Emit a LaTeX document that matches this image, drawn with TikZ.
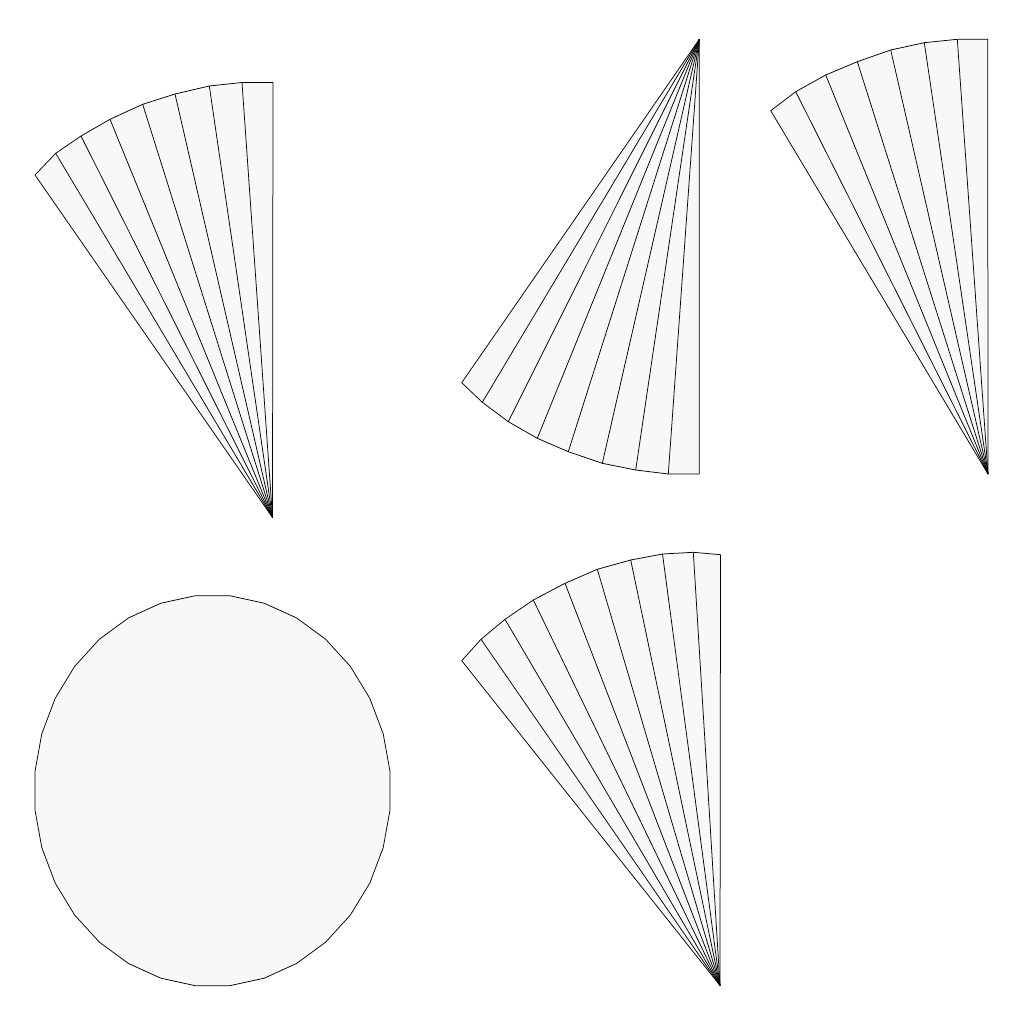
\documentclass[tikz,border=0pt]{standalone}
\usepackage{xcolor}
\usepackage{tikz}
\definecolor{fanfill}{RGB}{248, 248, 248}

\begin{document}
\begin{tikzpicture}[
    x=1pt, y=-1pt,
    fan/.style={fill=fanfill, draw=black, line width=0.75pt, line join=round},
    spoke/.style={draw=black, line width=0.75pt}
]
\useasboundingbox (0,0) rectangle (1024,1024);

% Fan top left (apex below)
\coordinate (apexA) at (272.5,517.5);
\draw[fan] (apexA) -- plot coordinates {(273,82.5) (242,82.5) (209.3,86) (175,94) (142.7,104.3) (110,119.3) (81,136) (55.7,153.3) (35,175)} -- cycle;
\foreach \x/\y in {242/82.5, 209.3/86, 175/94, 142.7/104.3, 110/119.3, 81/136, 55.7/153.3}
    \draw[spoke] (apexA) -- (\x,\y);

% Fan top middle (apex above)
\coordinate (apexB) at (699.3,39.3);
\draw[fan] (apexB) -- plot coordinates {(699.3,474) (668.3,474) (635.7,470) (602.3,463.3) (568.3,451.7) (537.3,438.3) (508.3,421.7) (482.3,402.3) (461.7,382.7)} -- cycle;
\foreach \x/\y in {668.3/474, 635.7/470, 602.3/463.3, 568.3/451.7, 537.3/438.3, 508.3/421.7, 482.3/402.3}
    \draw[spoke] (apexB) -- (\x,\y);

% Fan top right (apex below)
\coordinate (apexC) at (988,474);
\draw[fan] (apexC) -- plot coordinates {(987.7,39.3) (957.3,39.3) (924.3,42.7) (890.7,50) (857.3,61.7) (825.7,75) (795.7,91.7) (770.7,110.7)} -- cycle;
\foreach \x/\y in {957.3/39.3, 924.3/42.7, 890.7/50, 857.3/61.7, 825.7/75, 795.7/91.7}
    \draw[spoke] (apexC) -- (\x,\y);

% Polygon disc bottom left
\coordinate (discD) at (212.5,790.7);
\draw[fan] plot[samples=33, domain=5.625:365.625] ({212.5+178.4*cos(\x)},{790.7-195.9*sin(\x)}) -- cycle;

% Fan bottom middle (apex below)
\coordinate (apexE) at (720,985.5);
\draw[fan] (apexE) -- plot coordinates {(720.5,554.7) (693.3,552.3) (662.5,554) (630.7,560) (597.3,569.3) (565,583.3) (533.3,600) (505,619.3) (481,639.3) (461.7,660.7)} -- cycle;
\foreach \x/\y in {693.3/552.3, 662.5/554, 630.7/560, 597.3/569.3, 565/583.3, 533.3/600, 505/619.3, 481/639.3}
    \draw[spoke] (apexE) -- (\x,\y);

\end{tikzpicture}
\end{document}
